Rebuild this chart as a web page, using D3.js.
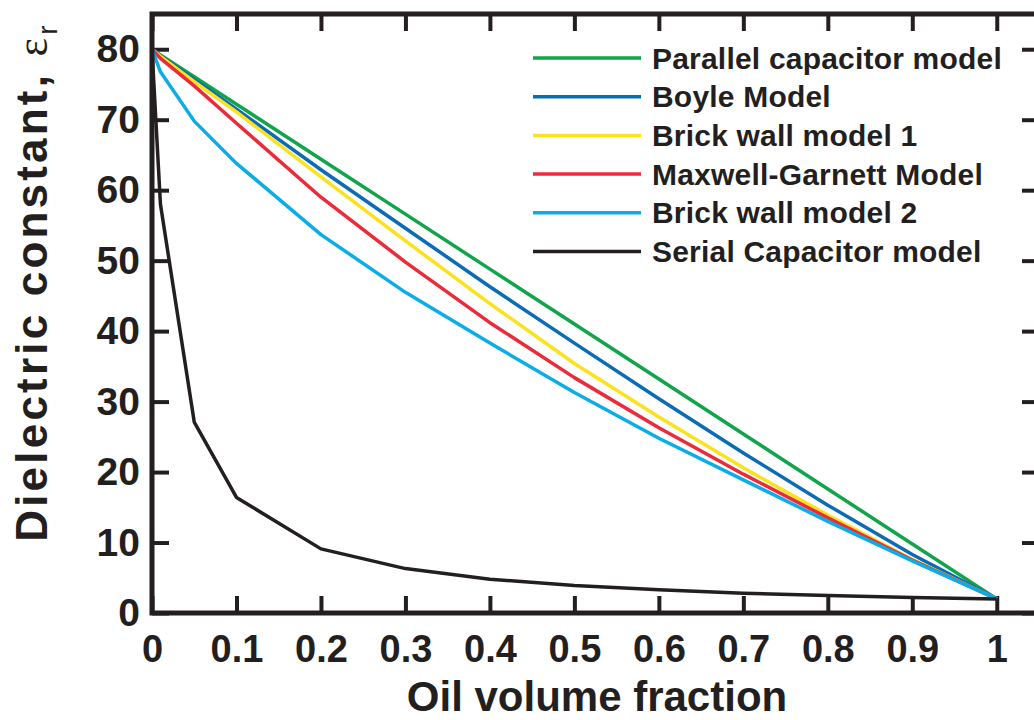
<!DOCTYPE html>
<html>
<head>
<meta charset="utf-8">
<script src="https://cdn.jsdelivr.net/npm/d3@7"></script>
<style>
  html, body { margin: 0; padding: 0; background: #fff; }
  svg { display: block; font-family: "Liberation Sans", Arial, sans-serif; }
</style>
</head>
<body>
<svg id="chart" width="1034" height="720"></svg>
<script>
// oil volume fraction sampled by every model
const fractions = [0, 0.01, 0.05, 0.1, 0.2, 0.3, 0.4, 0.5, 0.6, 0.7, 0.8, 0.9, 1]

// dielectric constant
const parallelModel = [80, 79.2, 76.1, 72.2, 64.4, 56.6, 48.8, 41.0, 33.2, 25.4, 17.6, 9.8, 2.0]
const boyleModel = [80, 79.1, 75.7, 71.5, 62.9, 54.6, 46.3, 38.3, 30.4, 22.7, 15.3, 8.3, 2.0]
const brickWall1 = [80, 79.0, 75.4, 71.1, 61.9, 52.8, 43.9, 35.4, 27.8, 20.6, 13.9, 7.6, 2.0]
const maxwellGarnett = [80, 78.7, 74.8, 69.5, 59.0, 49.8, 41.2, 33.4, 26.3, 19.7, 13.5, 7.5, 2.0]
const brickWall2 = [80, 76.8, 69.8, 63.8, 53.7, 45.5, 38.3, 31.3, 24.8, 18.9, 13.0, 7.4, 2.0]
const serialModel = [80, 58.0, 27.1, 16.4, 9.1, 6.3, 4.8, 3.9, 3.3, 2.8, 2.5, 2.2, 2.0]

const seriesNames = [
  'Parallel capacitor model',
  'Boyle Model',
  'Brick wall model 1',
  'Maxwell-Garnett Model',
  'Brick wall model 2',
  'Serial Capacitor model'
]
const seriesValues = [parallelModel, boyleModel, brickWall1, maxwellGarnett, brickWall2, serialModel]
const seriesColors = ['#10a54a', '#0b6cb6', '#fbe21c', '#ec2a3a', '#0aade8', '#231f20']

const xTicks = [0, 0.1, 0.2, 0.3, 0.4, 0.5, 0.6, 0.7, 0.8, 0.9, 1]
const yTicks = [0, 10, 20, 30, 40, 50, 60, 70, 80]

const ink = '#231f20'
let svg = d3.select('#chart')

// the frame runs a little past the right edge of the picture
let frameLeft = 152, frameRight = 1039, frameTop = 14, frameBottom = 613

let x = d3.scaleLinear().domain([0, 1.05]).range([frameLeft, frameRight])
let y = d3.scaleLinear().domain([0, 85]).range([frameBottom, frameTop])

// axes with inward ticks
let styleAxis = (g, labelSize) => {
  g.select('.domain').remove()
  g.selectAll('.tick line').attr('stroke', ink).attr('stroke-width', 4)
  g.selectAll('.tick text')
    .attr('fill', ink)
    .style('font-size', labelSize + 'px')
    .style('font-weight', 'bold')
}

svg.append('g')
    .attr('transform', `translate(0,${frameBottom})`)
    .call(d3.axisBottom(x).tickValues(xTicks).tickSize(-17).tickPadding(22).tickFormat(d => String(d)))
    .call(g => styleAxis(g, 38))

svg.append('g')
    .attr('transform', `translate(0,${frameTop})`)
    .call(d3.axisTop(x).tickValues(xTicks).tickSize(-17).tickFormat(''))
    .call(g => styleAxis(g, 38))

svg.append('g')
    .attr('transform', `translate(${frameLeft},0)`)
    .call(d3.axisLeft(y).tickValues(yTicks).tickSize(-17).tickPadding(12).tickFormat(d => String(d)))
    .call(g => styleAxis(g, 39))

svg.append('g')
    .attr('transform', `translate(${frameRight},0)`)
    .call(d3.axisRight(y).tickValues(yTicks).tickSize(-17).tickFormat(''))
    .call(g => styleAxis(g, 38))

// curves
let line = d3.line()
  .x((d, i) => x(fractions[i]))
  .y(d => y(d))

svg.append('g')
  .selectAll('path')
  .data(seriesValues)
  .join('path')
    .attr('d', d => line(d))
    .attr('fill', 'none')
    .attr('stroke', (d, i) => seriesColors[i])
    .attr('stroke-width', 3.5)
    .attr('stroke-linejoin', 'round')

// frame drawn over the curve ends
svg.append('rect')
    .attr('x', frameLeft)
    .attr('y', frameTop)
    .attr('width', frameRight - frameLeft)
    .attr('height', frameBottom - frameTop)
    .attr('fill', 'none')
    .attr('stroke', ink)
    .attr('stroke-width', 5)

// legend
let legend = svg.append('g')
  .selectAll('g')
  .data(seriesNames)
  .join('g')
    .attr('transform', (d, i) => `translate(533,${58 + i * 38.7})`)

legend.append('line')
    .attr('x1', 0)
    .attr('x2', 108)
    .attr('stroke', (d, i) => seriesColors[i])
    .attr('stroke-width', 3.5)

legend.append('text')
    .attr('x', 119)
    .attr('y', 10.5)
    .attr('fill', ink)
    .style('font-size', '30px')
    .style('font-weight', 'bold')
    .style('letter-spacing', '0.2px')
    .text(d => d)

// axis titles
svg.append('text')
    .attr('x', 597)
    .attr('y', 711)
    .attr('text-anchor', 'middle')
    .attr('fill', ink)
    .style('font-size', '42px')
    .style('font-weight', 'bold')
    .text('Oil volume fraction')

let yTitle = svg.append('text')
    .attr('transform', 'translate(47,282) rotate(-90)')
    .attr('text-anchor', 'middle')
    .attr('fill', ink)
    .style('font-size', '44px')
    .style('font-weight', 'bold')
    .style('letter-spacing', '3.2px')

yTitle.append('tspan').text('Dielectric constant, ')
yTitle.append('tspan')
    .style('font-family', '"Liberation Serif", serif')
    .style('font-weight', 'normal')
    .text('ε')
yTitle.append('tspan')
    .attr('dy', 10)
    .style('font-size', '28px')
    .style('font-weight', 'normal')
    .text('r')
</script>
</body>
</html>
